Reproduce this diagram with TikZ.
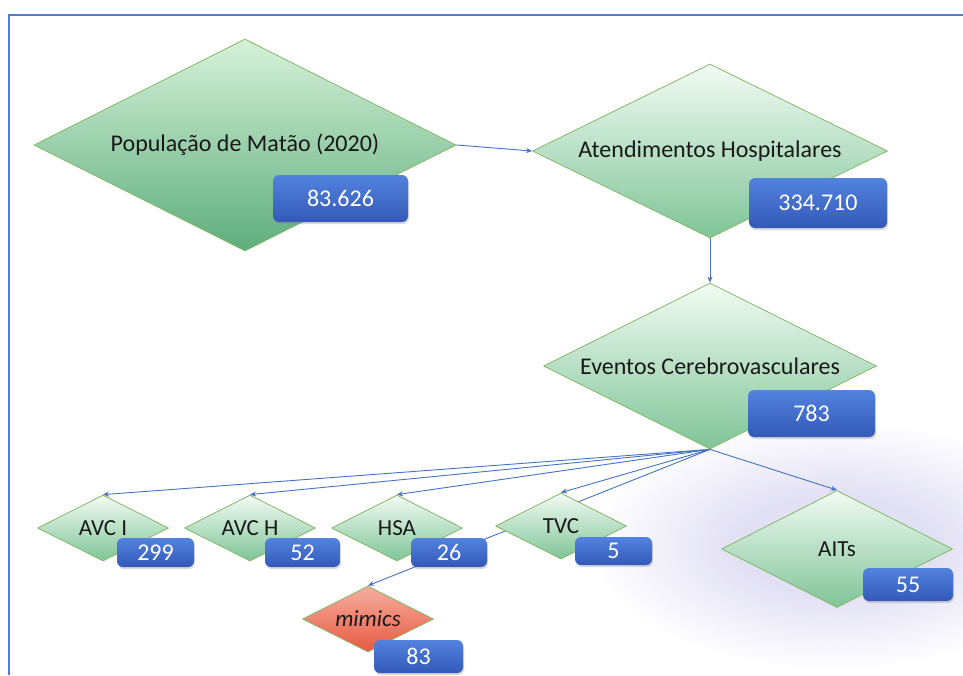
\documentclass[tikz,border=0pt]{standalone}
\usepackage{fontspec}
\setmainfont{Carlito}
\usetikzlibrary{arrows.meta,shapes.geometric,shadows}
\definecolor{FlowFrame}{HTML}{4F7FD0}
\definecolor{FlowArrow}{HTML}{4472C4}
\definecolor{FlowEdge}{HTML}{86B86A}
\definecolor{MintTop}{HTML}{F2FBF4}
\definecolor{MintMid}{HTML}{C9EED5}
\definecolor{MintBottom}{HTML}{7FC497}
\definecolor{PopTop}{HTML}{D6F2D9}
\definecolor{PopMid}{HTML}{7DD68B}
\definecolor{PopBottom}{HTML}{5EAD7D}
\definecolor{MimicTop}{HTML}{F7AE9E}
\definecolor{MimicBottom}{HTML}{E65A42}
\definecolor{BadgeTop}{HTML}{5283DE}
\definecolor{BadgeBottom}{HTML}{3459B8}
\definecolor{GlowLilac}{HTML}{E2E0F4}
\pgfdeclareradialshading{lilacglow}{\pgfpoint{0bp}{0bp}}{color(0bp)=(GlowLilac); color(10bp)=(GlowLilac); color(25bp)=(white); color(50bp)=(white)}
\pgfdeclarelayer{background}
\pgfsetlayers{background,main}

\begin{document}
\begin{tikzpicture}[>={Stealth[length=6pt,width=5pt]},x=1pt,y=-1pt,
  font=\fontsize{24}{28}\selectfont,
  rhomb/.style={diamond,aspect=2,draw=FlowEdge,line width=0.8pt,inner sep=0pt,text=black!90},
  mint/.style={rhomb,top color=MintTop,middle color=MintMid,bottom color=MintBottom},
  small/.style={font=\fontsize{23}{27}\selectfont,minimum width=131pt,minimum height=66pt},
  badge/.style={rounded corners=6pt,top color=BadgeTop,bottom color=BadgeBottom,text=white,inner sep=0pt,
    drop shadow={shadow xshift=1pt,shadow yshift=-2pt,opacity=0.3}},
  flow/.style={->,FlowArrow,line width=0.9pt}]
\useasboundingbox (0,0) rectangle (963,675);
\draw[FlowFrame,line width=2.2pt] (9,675) -- (9,15) -- (963,15);
\node[rhomb,top color=PopTop,middle color=PopMid,bottom color=PopBottom,minimum width=422pt,minimum height=212pt] (pop) at (245,145) {População de Matão (2020)};
\node[mint,minimum width=355pt,minimum height=174pt] (atend) at (710,151) {Atendimentos Hospitalares};
\node[mint,minimum width=333pt,minimum height=166pt] (eventos) at (710,366) {Eventos Cerebrovasculares};
\node[mint,small] (avci) at (103,528) {AVC I};
\node[mint,small] (avch) at (250,528) {AVC H};
\node[mint,small] (hsa) at (397,528) {HSA};
\node[mint,small] (tvc) at (561,526) {TVC};
\node[mint,small,minimum width=231pt,minimum height=117pt] (aits) at (837,549) {AITs};
\node[rhomb,small,top color=MimicTop,bottom color=MimicBottom] (mimics) at (368,619) {\itshape mimics};
\node[badge,minimum width=135pt,minimum height=47pt] (pop-n) at (340.5,198.5) {83.626};
\node[badge,minimum width=138pt,minimum height=50pt] (atend-n) at (818,203) {334.710};
\node[badge,minimum width=127pt,minimum height=47pt] (eventos-n) at (811.5,413.5) {783};
\node[badge,minimum width=77pt,minimum height=29pt] (avci-n) at (155.5,552.5) {299};
\node[badge,minimum width=75pt,minimum height=29pt] (avch-n) at (302.5,552.5) {52};
\node[badge,minimum width=76pt,minimum height=29pt] (hsa-n) at (449,552.5) {26};
\node[badge,minimum width=77pt,minimum height=28pt] (tvc-n) at (613.5,551) {5};
\node[badge,minimum width=90pt,minimum height=33pt] (aits-n) at (908,584.5) {55};
\node[badge,minimum width=89pt,minimum height=33pt] (mimics-n) at (418.5,656.5) {83};
\begin{pgfonlayer}{background}
\shade[shading=lilacglow] (835,545) ellipse [x radius=245pt, y radius=125pt];
\draw[flow] (pop.east) -- (atend.west);
\draw[flow] (atend.south) -- (eventos.north);
\foreach \n in {avci,avch,hsa,tvc,aits}
  \draw[flow] (eventos.south) -- (\n.north);
\draw[flow] (eventos.south) -- (mimics.north);
\end{pgfonlayer}
\end{tikzpicture}
\end{document}
